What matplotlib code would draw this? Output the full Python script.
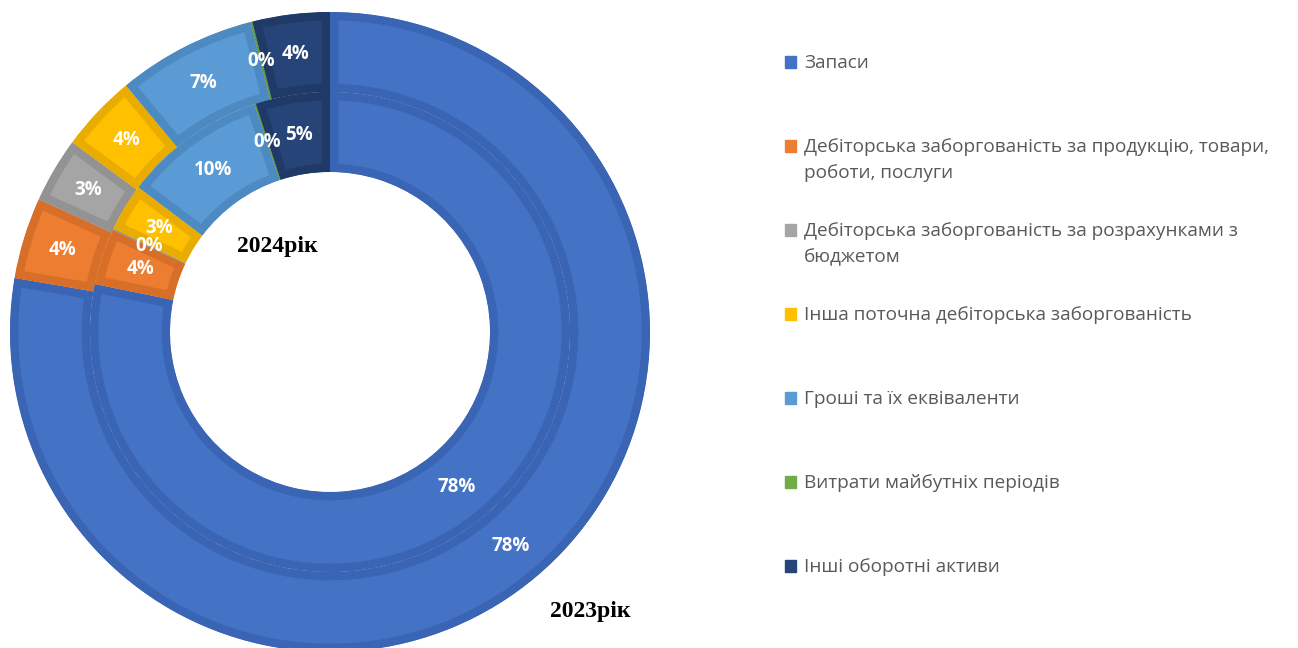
import matplotlib.pyplot as plt
from matplotlib.patches import Rectangle

categories = [
    "Запаси",
    "Дебіторська заборгованість за продукцію, товари,\nроботи, послуги",
    "Дебіторська заборгованість за розрахунками з\nбюджетом",
    "Інша поточна дебіторська заборгованість",
    "Гроші та їх еквіваленти",
    "Витрати майбутніх періодів",
    "Інші оборотні активи",
]
share_2023 = [77.7, 4.1, 3.3, 3.9, 7.0, 0.1, 3.9]
share_2024 = [78.2, 3.8, 0.1, 3.2, 9.6, 0.1, 5.0]

colors = ["#4472C4", "#ED7D31", "#A5A5A5", "#FFC000", "#5B9BD5", "#70AD47", "#264478"]
edges = ["#3A65B4", "#D76F28", "#939393", "#E8AD00", "#4D8AC2", "#5E9A3A", "#1F3A66"]

fig = plt.figure(figsize=(12.98, 6.48), dpi=100)
ax = fig.add_axes([10 / 1298, -4 / 648, 640 / 1298, 640 / 648])


def ring(values, radius, pctdist):
    wedges, _, texts = ax.pie(
        values, radius=radius, startangle=90, counterclock=False,
        colors=colors, autopct=lambda p: f"{p:.0f}%", pctdistance=pctdist,
        wedgeprops=dict(width=0.25, linewidth=12),
        textprops=dict(color="white", fontsize=13.5, fontweight="bold", family="Open Sans"),
    )
    for w, ec in zip(wedges, edges):
        w.set_edgecolor(ec)
    return wedges, texts


w23, _ = ring(share_2023, 1.0, 0.875)
w24, _ = ring(share_2024, 0.75, 0.833)

ax.set_xlim(-1, 1)
ax.set_ylim(-1, 1)
ax.set_aspect("equal")
ax.axis("off")

# keep the darker border inside each slice
for w in w23 + w24:
    w.set_clip_on(True)
    w.set_clip_path(w.get_path(), ax.transData)

ax.text(-0.166, 0.266, "2024рік", ha="center", va="center", fontsize=17,
        fontweight="bold", family="Liberation Serif", color="black")
ax.text(0.8125, -0.875, "2023рік", ha="center", va="center", fontsize=17,
        fontweight="bold", family="Liberation Serif", color="black")

# legend on the right
y0 = 648 - 62
for i, (label, c) in enumerate(zip(categories, colors)):
    y = (y0 - i * 84) / 648
    fig.patches.append(Rectangle((785 / 1298, y - 6 / 648), 11 / 1298, 12 / 648,
                                 transform=fig.transFigure, color=c, figure=fig))
    fig.text(804 / 1298, y + 8 / 648, label, ha="left", va="top", fontsize=13.7,
             family="Open Sans", color="#595959", linespacing=1.58)

fig.savefig("out.png", dpi=100)
